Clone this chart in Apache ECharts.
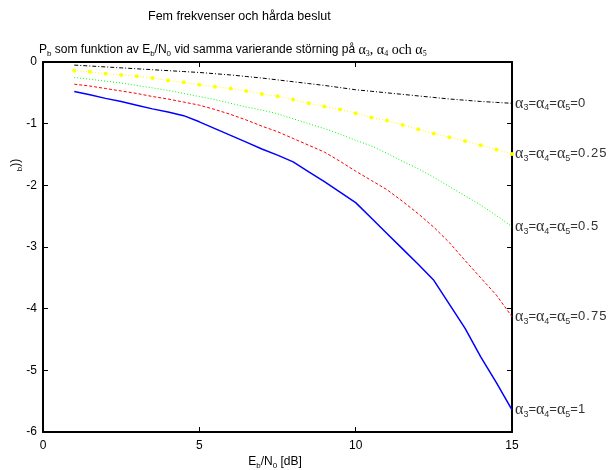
<!DOCTYPE html>
<html>
<head>
<meta charset="utf-8">
<script src="https://cdn.jsdelivr.net/npm/echarts@6/dist/echarts.min.js"></script>
<style>html,body{margin:0;padding:0;background:#fff}#c{width:613px;height:470px}</style>
</head>
<body>
<div id="c"></div>
<script>
// Eb/N0 grid [dB]
const ebn0 = [1,1.5,2,2.5,3,3.5,4,4.5,5,5.5,6,6.5,7,7.5,8,8.5,9,9.5,10,10.5,11,11.5,12,12.5,13,13.5,14,14.5,15];
// log10(Pb) for alpha3=alpha4=alpha5 = 0, 0.25, 0.5, 0.75, 1
const a0    = [-0.05,-0.065,-0.08,-0.095,-0.11,-0.125,-0.14,-0.155,-0.17,-0.19,-0.21,-0.235,-0.26,-0.29,-0.32,-0.35,-0.38,-0.415,-0.45,-0.475,-0.50,-0.525,-0.55,-0.575,-0.60,-0.62,-0.64,-0.655,-0.67];
const a025  = [-0.14,-0.16,-0.19,-0.21,-0.23,-0.26,-0.30,-0.33,-0.37,-0.40,-0.43,-0.47,-0.52,-0.555,-0.61,-0.67,-0.72,-0.77,-0.83,-0.90,-0.95,-1.02,-1.09,-1.16,-1.22,-1.28,-1.35,-1.42,-1.49];
const a05   = [-0.25,-0.28,-0.31,-0.34,-0.38,-0.42,-0.46,-0.51,-0.56,-0.61,-0.67,-0.73,-0.78,-0.84,-0.92,-1.00,-1.08,-1.17,-1.27,-1.36,-1.48,-1.61,-1.73,-1.87,-2.02,-2.17,-2.32,-2.49,-2.67];
const a075  = [-0.36,-0.39,-0.43,-0.47,-0.51,-0.56,-0.60,-0.65,-0.70,-0.77,-0.85,-0.94,-1.04,-1.13,-1.24,-1.35,-1.46,-1.61,-1.77,-1.92,-2.07,-2.26,-2.46,-2.68,-2.93,-3.22,-3.50,-3.78,-4.13];
const a1    = [-0.48,-0.53,-0.59,-0.64,-0.70,-0.76,-0.81,-0.87,-0.97,-1.08,-1.19,-1.30,-1.41,-1.51,-1.62,-1.78,-1.94,-2.11,-2.28,-2.53,-2.78,-3.03,-3.28,-3.54,-3.93,-4.32,-4.78,-5.20,-5.64];
const alphaLabels = ['0','0.25','0.5','0.75','1'];

const SANS = "'Liberation Sans', Arial, sans-serif";
const SERIF = "'Liberation Serif', 'Times New Roman', serif";

function pairs(ys){ return ebn0.map((x,i)=>[x, ys[i]]); }

const labelRich = {
  a: {fontFamily: SERIF, fontSize: 16, color: '#333', lineHeight: 18, verticalAlign: 'middle'},
  s: {fontFamily: SANS, fontSize: 9, color: '#333', lineHeight: 18, verticalAlign: 'bottom', padding:[6,0,0,0]},
  e: {fontFamily: SANS, fontSize: 13, color: '#333', lineHeight: 18, verticalAlign: 'middle'}
};
function endLbl(v){
  return {
    show: true, distance: 3,
    formatter: '{a|α}{s|3}{e|=}{a|α}{s|4}{e|=}{a|α}{s|5}{e|=' + v.split('').join('\u200A') + '}',
    rich: labelRich
  };
}

const defs = [
  {d: a0,   c: '#000000', type: [4,2,1,2], w: 1, sym: 'none', l: alphaLabels[0]},
  {d: a025, c: '#ffff00', type: [1,2],     w: 1, sym: 'circle', l: alphaLabels[1]},
  {d: a05,  c: '#00ff00', type: [1,2],     w: 1, sym: 'none', l: alphaLabels[2]},
  {d: a075, c: '#ff0000', type: [3,2],     w: 1, sym: 'none', l: alphaLabels[3]},
  {d: a1,   c: '#0000ff', type: 'solid',   w: 1.5, sym: 'none', l: alphaLabels[4]}
];

const series = defs.map(s => ({
  type: 'line',
  data: pairs(s.d),
  symbol: s.sym,
  symbolSize: 4,
  showSymbol: s.sym !== 'none',
  itemStyle: {color: s.c, borderWidth: 0},
  lineStyle: {color: s.c, width: s.w, type: s.type},
  endLabel: endLbl(s.l),
  labelLayout: {hideOverlap: false},
  animation: false,
  clip: false,
  z: 3
}));

const axisLine = {show: true, onZero: false, lineStyle: {color: '#000', width: 2}};
const tick = {show: true, inside: true, length: 5, lineStyle: {color: '#000', width: 1}};
const chart = echarts.init(document.getElementById('c'));
chart.setOption({
  backgroundColor: '#fff',
  animation: false,
  grid: {left: 43, top: 62, width: 469, height: 370, containLabel: false},
  xAxis: [
    {type: 'value', min: 0, max: 15, interval: 5, position: 'bottom',
     axisLine, axisTick: tick,
     axisLabel: {color: '#000', fontFamily: SANS, fontSize: 12, margin: 8},
     splitLine: {show: false}},
    {type: 'value', min: 0, max: 15, interval: 5, position: 'top',
     axisLine, axisTick: tick,
     axisLabel: {show: false}, splitLine: {show: false}}
  ],
  yAxis: [
    {type: 'value', min: -6, max: 0, interval: 1, position: 'left',
     axisLine, axisTick: tick,
     axisLabel: {color: '#000', fontFamily: SANS, fontSize: 12, margin: 6},
     splitLine: {show: false}},
    {type: 'value', min: -6, max: 0, interval: 1, position: 'right',
     axisLine, axisTick: tick,
     axisLabel: {show: false}, splitLine: {show: false}}
  ],
  series,
  graphic: [
    {type: 'text', left: 148, top: 10, silent: true,
     style: {text: 'Fem frekvenser och hårda beslut', font: '12.5px ' + SANS, fill: '#000'}},
    {type: 'text', left: 39, top: 43, silent: true,
     style: {
       text: '{n|P}{sb|b}{n| som funktion av E}{sb|b}{n|/N}{sb|0}{n| vid samma varierande störning på }{g|α}{gs|3}{g|, α}{gs|4}{g| och α}{gs|5}',
       rich: {
         n: {fontFamily: SANS, fontSize: 12, fill: '#000', lineHeight: 16, verticalAlign: 'middle'},
         sb: {fontFamily: SANS, fontSize: 8, fill: '#000', lineHeight: 16, verticalAlign: 'bottom', padding:[5,0,0,0]},
         g: {fontFamily: SERIF, fontSize: 14, fill: '#000', lineHeight: 16, verticalAlign: 'middle'},
         gs: {fontFamily: SERIF, fontSize: 8, fill: '#000', lineHeight: 16, verticalAlign: 'bottom', padding:[5,0,0,0]}
       }
     }},
    {type: 'text', x: 16, y: 165, rotation: Math.PI/2, silent: true,
     style: {
       text: '{sb|b}{n|))}', align: 'center', verticalAlign: 'middle',
       rich: {
         n: {fontFamily: SANS, fontSize: 12, fill: '#000', lineHeight: 16, verticalAlign: 'middle'},
         sb: {fontFamily: SANS, fontSize: 8, fill: '#000', lineHeight: 16, verticalAlign: 'bottom', padding:[5,0,0,0]}
       }
     }},
    {type: 'text', x: 275, y: 462, silent: true,
     style: {
       text: '{n|E}{sb|b}{n|/N}{sb|0}{n| [dB]}', align: 'center', verticalAlign: 'middle',
       rich: {
         n: {fontFamily: SANS, fontSize: 12, fill: '#000', lineHeight: 16, verticalAlign: 'middle'},
         sb: {fontFamily: SANS, fontSize: 8, fill: '#000', lineHeight: 16, verticalAlign: 'bottom', padding:[5,0,0,0]}
       }
     }}
  ]
});
</script>
</body>
</html>
